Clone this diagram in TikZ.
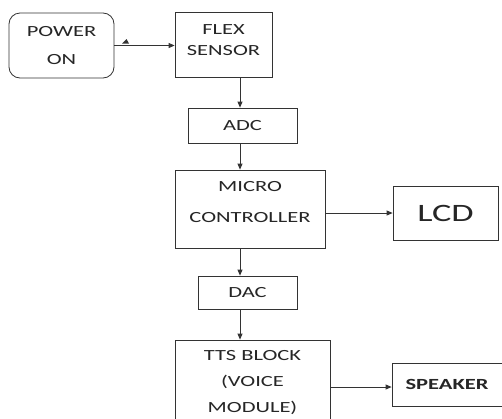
\documentclass[tikz,border=0pt]{standalone}
\usepackage{fontspec}
\newfontfamily\boxfont{Carlito}[FakeStretch=1.45]
\usetikzlibrary{positioning,arrows.meta}

\begin{document}
\begin{tikzpicture}[
    x=1pt, y=-1pt,
    block/.style={draw=black!80, line width=0.8pt, align=center, inner sep=0pt,
        font=\boxfont\fontsize{15.5}{18}\selectfont, text=black!85},
    link/.style={draw=black!80, line width=0.8pt, -{Triangle[length=6pt,width=5pt]}}
]

% Frame of the picture
\useasboundingbox (0,0) rectangle (502,418);
\fill[white] (0,0) rectangle (502,418);

% === Blocks ===
\node[block, rounded corners=11pt, minimum width=105pt, minimum height=65pt]
    (power) at (61.5,45.5) {POWER\\[10pt]ON};
\node[block, minimum width=97pt, minimum height=65pt, text depth=8pt]
    (flex) at (223.5,44.5) {FLEX\\[3pt]SENSOR};
\node[block, minimum width=109pt, minimum height=35pt]
    (adc) at (242.5,125.5) {ADC};
\node[block, minimum width=150pt, minimum height=78pt, text depth=14pt]
    (micro) at (250,209) {MICRO\\[13pt]CONTROLLER};
\node[block, minimum width=105pt, minimum height=54pt, font=\boxfont\fontsize{25}{30}\selectfont]
    (lcd) at (445.5,213) {LCD};
\node[block, minimum width=99pt, minimum height=33pt]
    (dac) at (247.5,292.5) {DAC};
\node[block, minimum width=155pt, minimum height=86pt]
    (tts) at (252.5,383) {TTS BLOCK\\[8pt](VOICE\\[8pt]MODULE)};
\node[block, minimum width=110pt, minimum height=43pt, font=\boxfont\bfseries\fontsize{15.5}{18}\selectfont]
    (speaker) at (447,384.5) {SPEAKER};

% === Connectors ===
\draw[link] (power.east) -- (power.east -| flex.west);
\fill[black!80] (122,43.5) -- (129,43.5) -- (126.5,39) -- cycle;

\coordinate (spine) at (240,0);
\draw[link] (flex.south -| spine) -- (adc.north -| spine);
\draw[link] (adc.south -| spine) -- (micro.north -| spine);
\draw[link] (micro.south -| spine) -- (dac.north -| spine);
\draw[link] (dac.south -| spine) -- (tts.north -| spine);

\draw[link] (micro.east |- lcd.west) -- (lcd.west);
\draw[link] (tts.east |- 0,387) -- (speaker.west |- 0,387);

\end{tikzpicture}
\end{document}
